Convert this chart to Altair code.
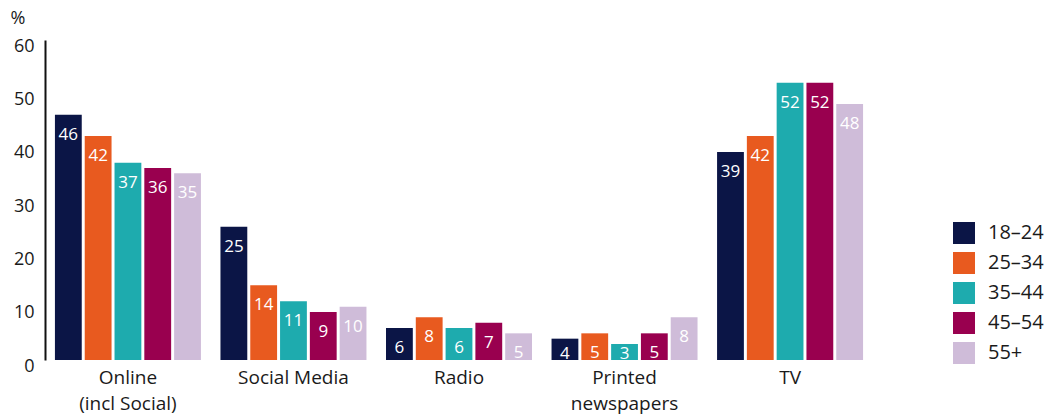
import altair as alt
import pandas as pd

categories = ["Online\n(incl Social)", "Social Media", "Radio", "Printed\nnewspapers", "TV"]
ages = ["18–24", "25–34", "35–44", "45–54", "55+"]
v_18_24 = [46, 25, 6, 4, 39]
v_25_34 = [42, 14, 8, 5, 42]
v_35_44 = [37, 11, 6, 3, 52]
v_45_54 = [36, 9, 7, 5, 52]
v_55p = [35, 10, 5, 8, 48]
colors = ["#0b1546", "#e85a1f", "#1eabae", "#99004f", "#cfbcd9"]

series = [v_18_24, v_25_34, v_35_44, v_45_54, v_55p]
rows = []
for age, vals in zip(ages, series):
    for cat, v in zip(categories, vals):
        rows.append({"category": cat, "age": age, "value": v})
df = pd.DataFrame(rows)

FONT = "Open Sans"

x = alt.X("category:N", sort=categories,
          scale=alt.Scale(paddingInner=0.118, paddingOuter=0.06),
          axis=alt.Axis(title=None, labelAngle=0, domain=False, ticks=False,
                        labelFontSize=19, labelColor="#1a1a1a", labelPadding=8,
                        labelLineHeight=26, labelBaseline="top",
                        labelExpr="split(datum.label, '\\n')"))
xo = alt.XOffset("age:N", sort=ages, scale=alt.Scale(paddingInner=0.1, paddingOuter=0))
y = alt.Y("value:Q", scale=alt.Scale(domain=[0, 60], nice=False, zero=True),
          axis=alt.Axis(title="%", titleAngle=0, titleX=-35, titleY=-22, titleAlign="left",
                        titleBaseline="middle", titleFontSize=18, titleFontWeight="normal",
                        titleColor="#1a1a1a",
                        values=[0, 10, 20, 30, 40, 50, 60], grid=False, ticks=False,
                        domain=True, domainColor="#111111", domainWidth=2,
                        labelFontSize=18, labelColor="#1a1a1a", labelPadding=11,
                        labelOffset=6))

bars = alt.Chart(df).mark_bar().encode(
    x=x, xOffset=xo, y=y,
    color=alt.Color("age:N", sort=ages, scale=alt.Scale(domain=ages, range=colors),
                    legend=alt.Legend(title=None, orient="none", legendX=908, legendY=182,
                                      symbolType="square", symbolSize=484,
                                      symbolStrokeWidth=0, symbolOpacity=1,
                                      labelFontSize=20, labelColor="#1a1a1a",
                                      labelOffset=13, rowPadding=8)),
)

labels = alt.Chart(df).transform_calculate(
    ly="max(datum.value - 3.75, 1.15)"
).mark_text(color="white", fontSize=17, baseline="middle", align="center", font=FONT).encode(
    x=alt.X("category:N", sort=categories), xOffset=alt.XOffset("age:N", sort=ages),
    y=alt.Y("ly:Q"),
    text=alt.Text("value:Q"),
)

chart = (bars + labels).properties(
    width=828, height=320,
    padding={"left": 45, "top": 40, "right": 180, "bottom": 60},
    autosize=alt.AutoSizeParams(type="none"),
).configure(font=FONT).configure_view(strokeWidth=0, stroke="transparent").configure_axis(labelFont=FONT, titleFont=FONT).configure_legend(labelFont=FONT)

chart.save("out.html", embed_options={"renderer": "svg", "actions": False})
